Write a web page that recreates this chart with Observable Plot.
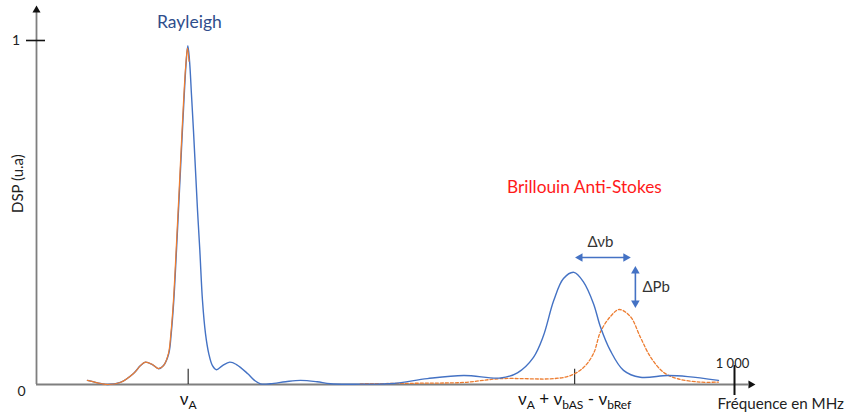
<!DOCTYPE html>
<html>
<head>
<meta charset="utf-8">
<script src="https://cdn.jsdelivr.net/npm/d3@7"></script>
<script src="https://cdn.jsdelivr.net/npm/@observablehq/plot@0.6"></script>
<style>
  html, body { margin: 0; padding: 0; background: #fff; }
  #chart svg { display: block; }
</style>
</head>
<body>
<div id="chart"></div>
<script>
// ---- data ----
// Blue spectrum (reference)
const blueX = [73, 92, 102, 120, 139, 149, 156, 166, 175, 182, 189.5, 193, 196.7, 200.6, 204.2, 207.7, 211.3, 214.2, 216.8,
  219.2, 222.1, 224.9, 227.8, 230.7, 234, 237.8, 242.1, 246.8, 252.1, 257.9, 266.5, 276.9, 286.5, 302.3, 312.3, 320.9,
  335, 357, 378, 402, 421, 464, 511, 560, 612, 665, 689, 712, 726, 741, 755, 770, 784, 798, 808, 822, 841, 865, 904, 933, 977];
const blueY = [0.012, 0.003, 0.0, 0.006, 0.032, 0.055, 0.065, 0.058, 0.046, 0.055, 0.090, 0.148, 0.244, 0.392, 0.538, 0.683, 0.828, 0.930, 0.985,
  0.942, 0.840, 0.738, 0.622, 0.506, 0.390, 0.244, 0.148, 0.090, 0.055, 0.043, 0.055, 0.065, 0.058, 0.032, 0.012, 0.002,
  0.002, 0.008, 0.012, 0.008, 0.002, 0.001, 0.003, 0.017, 0.026, 0.019, 0.034, 0.079, 0.140, 0.244, 0.308, 0.326, 0.297, 0.235, 0.167, 0.099, 0.041, 0.021, 0.026, 0.023, 0.012];

// Orange spectrum, Rayleigh part (solid, drawn over blue on the left flank)
const orangeRayX = [73, 92, 102, 120, 139, 149, 156, 166, 175, 182, 189, 192.5, 196.2, 200.1, 203.7, 207.2, 210.8, 213.7, 216.3, 218.5];
const orangeRayY = [0.012, 0.003, 0.0, 0.006, 0.032, 0.055, 0.065, 0.058, 0.046, 0.055, 0.090, 0.148, 0.244, 0.392, 0.538, 0.683, 0.828, 0.925, 0.978, 0.94];

// Orange spectrum, Brillouin part (dashed)
const orangeBriX = [464, 511, 560, 612, 665, 741, 765, 784, 798, 808, 822, 835, 851, 865, 880, 898, 918, 951, 977];
const orangeBriY = [0.002, 0.003, 0.004, 0.006, 0.017, 0.017, 0.026, 0.050, 0.090, 0.153, 0.197, 0.218, 0.197, 0.138, 0.079, 0.036, 0.017, 0.007, 0.007];

// Axis ticks and labels
const yTickValues = [0, 1];
const yTickLabels = ["0", "1"];
const xMarkerValues = [217.3, 771];
const xMarkerLabels = ["ν_A", "ν_A + ν_bAS - ν_bRef"];
const xEndTick = 1000;
const xEndTickLabel = "1 000";
const xTitle = "Fréquence en MHz";
const yTitle = "DSP (u.a)";

// Annotations
const peakLabels = ["Rayleigh", "Brillouin Anti-Stokes"];
const deltaNuB = {label: "Δνb", x1: 772, x2: 851, y: 0.369};
const deltaPB = {label: "ΔPb", x: 858, y1: 0.346, y2: 0.221};

// ---- build ----
const blue = blueX.map((x, i) => ({x, y: blueY[i]}));
const orangeRay = orangeRayX.map((x, i) => ({x, y: orangeRayY[i]}));
const orangeBri = orangeBriX.map((x, i) => ({x, y: orangeBriY[i]}));

const BLUE = "#4472C4";
const ORANGE = "#ED7D31";
const AXIS = "#7f7f7f";
const FONT = "Lato, 'Open Sans', sans-serif";

const chart = Plot.plot({
  width: 846,
  height: 414,
  marginLeft: 36,
  marginRight: 112,
  marginTop: 40,
  marginBottom: 30,
  x: {domain: [0, 1000], axis: null},
  y: {domain: [0, 1], axis: null},
  style: {fontFamily: FONT, background: "#fff", overflow: "visible", color: "#222"},
  marks: [
    // axes
    Plot.ruleX([0], {y1: 0, y2: 1.085, stroke: AXIS, strokeWidth: 1.8}),
    Plot.ruleY([0], {x1: 0, x2: 1020, stroke: AXIS, strokeWidth: 1.8}),
    Plot.dot([{x: 0, y: 1.088}], {x: "x", y: "y", symbol: "triangle", r: 3, fill: "#111", stroke: "none"}),
    Plot.dot([{x: 1023.3, y: 0}], {x: "x", y: "y", symbol: "triangle", r: 3, fill: "#111", stroke: "none", rotate: 90}),
    // y tick at 1
    Plot.ruleY([yTickValues[1]], {x1: -14.3, x2: 12.9, stroke: "#111", strokeWidth: 1.6}),
    Plot.text([yTickValues[0]], {x: 0, y: d => d, text: () => yTickLabels[0], dx: -15, dy: 7, fontSize: 14, fill: "#222", textAnchor: "middle"}),
    Plot.text([yTickValues[1]], {x: 0, y: d => d, text: () => yTickLabels[1], dx: -20.5, fontSize: 14, fill: "#222", textAnchor: "middle"}),
    // x end tick
    Plot.ruleX([xEndTick], {y1: -0.032, y2: 0.055, stroke: "#111", strokeWidth: 2}),
    Plot.text([xEndTick], {x: d => d, y: 0.061, text: () => xEndTickLabel, dx: -2, fontSize: 13, fill: "#222", textAnchor: "middle"}),
    // marker ticks
    Plot.ruleX(xMarkerValues, {y1: 0, y2: 0.044, stroke: "#222", strokeWidth: 1.1}),
    Plot.text(xMarkerValues, {x: d => d, y: 0, text: (d, i) => xMarkerLabels[i], dy: 15, fontSize: 17, fill: "#111", textAnchor: "middle"}),
    // axis titles
    Plot.text([xTitle], {x: 1000, y: 0, text: d => d, dx: -17, dy: 20, fontSize: 15.2, fill: "#222", textAnchor: "start"}),
    Plot.text([yTitle], {x: 0, y: 0.584, text: d => d, dx: -18, fontSize: 15, fill: "#222", rotate: -90, textAnchor: "middle"}),
    // curves
    Plot.line(orangeBri, {x: "x", y: "y", curve: "catmull-rom", stroke: ORANGE, strokeWidth: 1.3, strokeDasharray: "3,2"}),
    Plot.line(blue, {x: "x", y: "y", curve: "catmull-rom", stroke: BLUE, strokeWidth: 1.4}),
    Plot.line(orangeRay, {x: "x", y: "y", curve: "catmull-rom", stroke: ORANGE, strokeWidth: 1.2}),
    // peak labels
    Plot.text([peakLabels[0]], {x: 219, y: 1.052, text: d => d, fontSize: 17.5, fill: "#2F4E8C", textAnchor: "middle"}),
    Plot.text([peakLabels[1]], {x: 785, y: 0.573, text: d => d, fontSize: 17.3, fill: "#FF1A1A", textAnchor: "middle"}),
    // Δνb double arrow
    Plot.ruleY([deltaNuB.y], {x1: deltaNuB.x1 + 6, x2: deltaNuB.x2 - 6, stroke: BLUE, strokeWidth: 1.6}),
    Plot.dot([{x: deltaNuB.x1 + 6.7, y: deltaNuB.y, r: -90}, {x: deltaNuB.x2 - 6.7, y: deltaNuB.y, r: 90}],
      {x: "x", y: "y", rotate: "r", symbol: "triangle", r: 3.2, fill: BLUE, stroke: "none"}),
    Plot.text([deltaNuB.label], {x: 808, y: deltaNuB.y, text: d => d, dy: -15, fontSize: 15, fill: "#333", textAnchor: "middle"}),
    // ΔPb double arrow
    Plot.ruleX([deltaPB.x], {y1: deltaPB.y1 - 0.015, y2: deltaPB.y2 + 0.015, stroke: BLUE, strokeWidth: 1.6}),
    Plot.dot([{x: deltaPB.x, y: deltaPB.y1 - 0.0158, r: 0}, {x: deltaPB.x, y: deltaPB.y2 + 0.0158, r: 180}],
      {x: "x", y: "y", rotate: "r", symbol: "triangle", r: 3.2, fill: BLUE, stroke: "none"}),
    Plot.text([deltaPB.label], {x: deltaPB.x, y: (deltaPB.y1 + deltaPB.y2) / 2, text: d => d, dx: 7, fontSize: 15, fill: "#333", textAnchor: "start"})
  ]
});

// turn "ν_A" style markup into real subscripts
function richify(svg) {
  const NS = "http://www.w3.org/2000/svg";
  svg.querySelectorAll("text").forEach(t => {
    const s = t.textContent;
    if (!s.includes("_")) return;
    t.textContent = "";
    const parts = s.split(/_(\w+)/);
    let lowered = false;
    parts.forEach((p, i) => {
      if (!p) return;
      const ts = document.createElementNS(NS, "tspan");
      ts.textContent = p;
      if (i % 2 === 1) {
        ts.setAttribute("font-size", "12");
        ts.setAttribute("dy", "4");
        lowered = true;
      } else if (lowered) {
        ts.setAttribute("dy", "-4");
        lowered = false;
      }
      t.appendChild(ts);
    });
  });
}
richify(chart);
document.getElementById("chart").appendChild(chart);
</script>
</body>
</html>
